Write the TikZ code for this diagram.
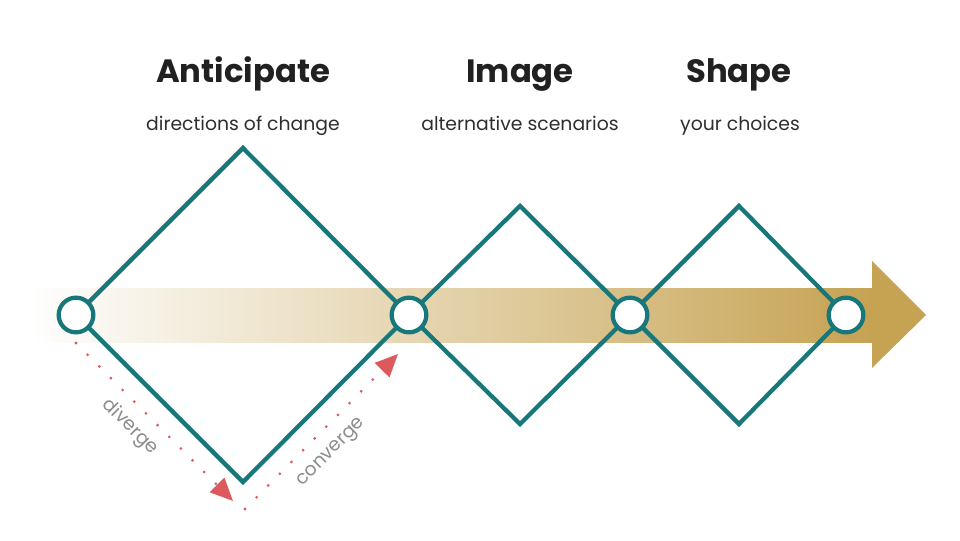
\documentclass[tikz,border=0pt]{standalone}
\usepackage{fontspec}
\setmainfont{Poppins}
\usetikzlibrary{arrows.meta}
\definecolor{teal}{HTML}{17777A}
\definecolor{gold}{HTML}{C6A353}
\definecolor{redline}{HTML}{DC5A5E}
\definecolor{greytext}{HTML}{8C8C8C}
\tikzstyle{edge} = [teal,line width=3.2]
\tikzstyle{knot} = [circle,draw=teal,fill=white,line width=3.2,minimum size=26,inner sep=0pt]
\tikzstyle{flow} = [redline,line width=2.3,line cap=round,dash pattern=on 0pt off 12.4,
  -{Triangle[length=17,width=15]}]
\tikzstyle{title} = [anchor=base,text=black!87,font=\bfseries\fontsize{24.2}{28}\selectfont]
\tikzstyle{subtitle} = [anchor=base,text=black!82,font=\fontsize{14.1}{17}\selectfont]
\tikzstyle{flowlabel} = [text=greytext,font=\fontsize{14}{17}\selectfont]

\begin{document}
\begin{tikzpicture}[x=0.75pt,y=-0.75pt]
		\useasboundingbox (0,0) rectangle (960,540);

		% define constants
		\def \mid {315}
		\def \bw {27}

		% Draw the band and its head
		\shade[left color=white,right color=gold,draw=none]
			(30,\mid-\bw) rectangle (872,\mid+\bw);
		\fill[gold] (872,261) -- (926,\mid) -- (872,368) -- cycle;

		% corners of the diamonds
		\coordinate (p0) at (76,\mid);
		\coordinate (p1) at (409,\mid);
		\coordinate (p2) at (630,\mid);
		\coordinate (p3) at (846,\mid);
		\coordinate (top1) at (243,148);
		\coordinate (bot1) at (243,482);
		\coordinate (top2) at (520,206);
		\coordinate (bot2) at (520,424);
		\coordinate (top3) at (739,206);
		\coordinate (bot3) at (739,424);

		% Draw the diamonds
		\draw[edge,line join=miter] (p0) -- (top1) -- (p1) -- (bot1) -- cycle;
		\draw[edge,line join=miter] (p1) -- (top2) -- (p2) -- (bot2) -- cycle;
		\draw[edge,line join=miter] (p2) -- (top3) -- (p3) -- (bot3) -- cycle;

		\node[knot] (k0) at (p0) {};
		\node[knot] (k1) at (p1) {};
		\node[knot] (k2) at (p2) {};
		\node[knot] (k3) at (p3) {};

		% diverge and converge
		\coordinate (dstart) at (76,343);
		\coordinate (dend) at (233,501);
		\coordinate (cstart) at (245,509);
		\coordinate (cend) at (398,354);
		\draw[flow] (dstart) -- (dend);
		\draw[flow] (cstart) -- (cend);
		\node[flowlabel,rotate=-45] (div) at (130,427) {diverge};
		\node[flowlabel,rotate=45] (conv) at (332,453) {converge};

		% titles
		\node[title] (ant) at (243,82) {Anticipate};
		\node[title] (img) at (520,82) {Image};
		\node[title] (shp) at (739,82) {Shape};
		\node[subtitle] (antsub) at (243,130) {directions of change};
		\node[subtitle] (imgsub) at (520,130) {alternative scenarios};
		\node[subtitle] (shpsub) at (740,130) {your choices};
\end{tikzpicture}
\end{document}
